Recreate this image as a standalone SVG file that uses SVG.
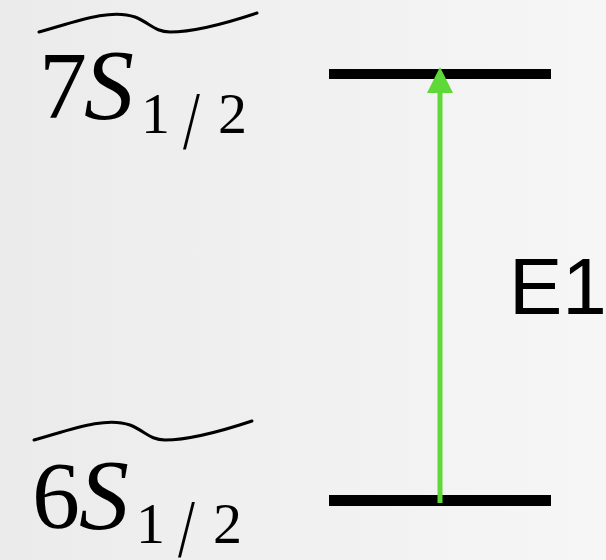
<svg xmlns="http://www.w3.org/2000/svg" width="606" height="560" viewBox="0 0 606 560">
  <defs>
    <linearGradient id="bg" x1="0" y1="0" x2="1" y2="0">
      <stop offset="0" stop-color="#ebebeb"/>
      <stop offset="1" stop-color="#f6f6f6"/>
    </linearGradient>
    <marker id="ah" markerUnits="userSpaceOnUse" markerWidth="26" markerHeight="26" viewBox="0 0 26 26" refX="0" refY="13" orient="auto">
      <polygon points="0,0 26,13 0,26" fill="#5ed937"/>
    </marker>
  </defs>
  <style>
    .lvl { fill: #000; }
    .tilde { fill: none; stroke: #000; stroke-width: 3; stroke-linecap: round; }
    .main { font-family: "Liberation Serif", "Times New Roman", serif; font-size: 96px; fill: #000; }
    .ital { font-style: italic; font-size: 100px; }
    .sub { font-family: "Liberation Serif", "Times New Roman", serif; font-size: 58px; fill: #000; }
    .slash { font-family: "Liberation Serif", "Times New Roman", serif; font-size: 82px; fill: #000; }
    .lbl { font-family: "Liberation Sans", Arial, sans-serif; font-size: 80px; fill: #000; }
  </style>
  <rect width="606" height="560" fill="url(#bg)"/>

  <g id="level-7S">
    <rect class="lvl" x="329" y="69" width="222" height="10"/>
  </g>
  <g id="level-6S">
    <rect class="lvl" x="329" y="495" width="222" height="11"/>
  </g>

  <g id="label-7S">
    <path class="tilde" d="M39,32 C75,22 110,8 135,17 C150,23 155,32 170,32 C195,32 230,22 257,13"/>
    <text class="main" x="39" y="118">7</text>
    <text class="main ital" x="84" y="118">S</text>
    <text class="sub" x="141" y="133">1</text>
    <text class="slash" transform="translate(183,148) scale(0.74,1)">/</text>
    <text class="sub" x="218" y="133">2</text>
  </g>

  <g id="label-6S">
    <path class="tilde" d="M34,440 C70,430 105,416 130,425 C145,431 150,440 165,440 C190,440 225,430 252,421"/>
    <text class="main" x="32" y="528">6</text>
    <text class="main ital" x="79" y="528">S</text>
    <text class="sub" x="136" y="543">1</text>
    <text class="slash" transform="translate(178,556) scale(0.74,1)">/</text>
    <text class="sub" x="213" y="543">2</text>
  </g>

  <g id="connectors">
    <line x1="440" y1="503" x2="440" y2="93" stroke="#5ed937" stroke-width="5" marker-end="url(#ah)"/>
  </g>
  <text class="lbl" x="509" y="314">E1</text>
</svg>
